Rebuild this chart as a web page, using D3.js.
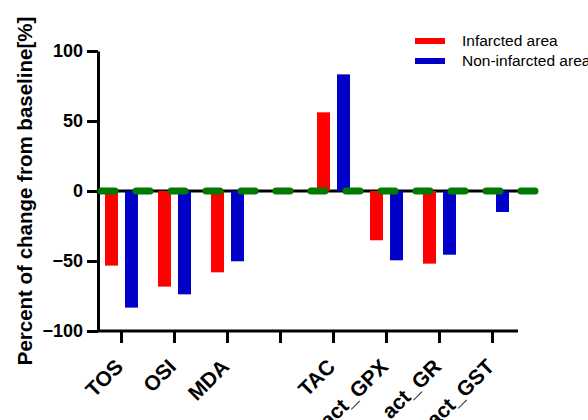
<!DOCTYPE html>
<html>
<head>
<meta charset="utf-8">
<script src="https://cdn.jsdelivr.net/npm/d3@7/dist/d3.min.js"></script>
<style>
  html, body { margin: 0; padding: 0; background: #fff; }
  svg { display: block; font-family: "Liberation Sans", Arial, sans-serif; }
</style>
</head>
<body>
<svg id="chart" width="588" height="420"></svg>
<script>
// Markers measured in both tissue regions, as % change from baseline
const categories = ["TOS", "OSI", "MDA", "", "TAC", "act_GPX", "act_GR", "act_GST"];
const infarcted    = [-53.3, -68.3, -58.1, null, 56.2, -35.2, -51.9, null];
const nonInfarcted = [-83.3, -73.8, -50.2, null, 83.3, -49.5, -45.5, -15.0];
const seriesNames  = ["Infarcted area", "Non-infarcted area"];
const seriesColors = ["#ff0000", "#0000c8"];
const yTicks = [-100, -50, 0, 50, 100];
const baseline = 0;

const svg = d3.select("#chart");

const y = d3.scaleLinear().domain([-100, 100]).range([331, 51]);
const x0 = d3.scaleBand().domain(d3.range(categories.length)).range([95, 519]).paddingInner(0);
const x1 = d3.scaleBand().domain([0, 1]).range([0, x0.bandwidth()]).paddingInner(0.35).paddingOuter(0.5);

const axisColor = "#000";

// Y axis
const yAxis = svg.append("g")
  .attr("transform", "translate(98,0)")
  .call(d3.axisLeft(y).tickValues(yTicks).tickSize(11).tickSizeOuter(0).tickPadding(4));
yAxis.select(".domain").attr("stroke", axisColor).attr("stroke-width", 3);
yAxis.selectAll(".tick line").attr("stroke", axisColor).attr("stroke-width", 3);
yAxis.selectAll(".tick text")
  .attr("fill", "#000")
  .style("font-size", "18px")
  .style("font-weight", "bold")
  .style("font-family", "'Liberation Sans', Arial, sans-serif");

// X axis at the bottom of the value range
const xAxis = svg.append("g")
  .attr("transform", `translate(0,${y(-100)})`)
  .call(d3.axisBottom(x0).tickSize(12).tickSizeOuter(0).tickFormat(i => categories[i]));
xAxis.select(".domain").attr("stroke", axisColor).attr("stroke-width", 3)
  .attr("d", `M98,0H518`);
xAxis.selectAll(".tick line").attr("stroke", axisColor).attr("stroke-width", 3);
xAxis.selectAll(".tick text")
  .attr("fill", "#000")
  .attr("y", 0)
  .attr("dy", 0)
  .attr("text-anchor", "end")
  .attr("transform", "translate(3,37) rotate(-45)")
  .style("font-size", "21px")
  .style("font-weight", "bold")
  .style("font-family", "'Liberation Sans', Arial, sans-serif");

// Zero line
svg.append("line")
  .attr("x1", 98).attr("x2", 518)
  .attr("y1", y(0)).attr("y2", y(0))
  .attr("stroke", "#000").attr("stroke-width", 3);

// Bars
const series = [infarcted, nonInfarcted];
series.forEach((vals, s) => {
  svg.append("g").selectAll("rect")
    .data(vals.map((v, i) => ({ v, i })).filter(d => d.v != null))
    .join("rect")
    .attr("x", d => x0(d.i) + x1(s))
    .attr("width", x1.bandwidth())
    .attr("y", d => y(Math.max(0, d.v)))
    .attr("height", d => Math.abs(y(d.v) - y(0)))
    .attr("fill", seriesColors[s]);
});

// Dashed baseline
svg.append("line")
  .attr("x1", 101).attr("x2", 535)
  .attr("y1", y(baseline)).attr("y2", y(baseline))
  .attr("stroke", "#007a00")
  .attr("stroke-width", 7)
  .attr("stroke-linecap", "round")
  .attr("stroke-dasharray", "14 21");

// Y axis title
svg.append("text")
  .attr("transform", `translate(32,${y(0)}) rotate(-90)`)
  .attr("text-anchor", "middle")
  .style("font-size", "20.5px")
  .style("font-weight", "bold")
  .text("Percent of change from baseline[%]");

// Legend
const legend = svg.append("g");
seriesNames.forEach((name, s) => {
  const ly = 41 + s * 20;
  legend.append("line")
    .attr("x1", 415).attr("x2", 445)
    .attr("y1", ly).attr("y2", ly)
    .attr("stroke", seriesColors[s]).attr("stroke-width", 6);
  legend.append("text")
    .attr("x", 462).attr("y", ly)
    .attr("dy", "0.35em")
    .style("font-size", "15.5px")
    .text(name);
});
</script>
</body>
</html>
